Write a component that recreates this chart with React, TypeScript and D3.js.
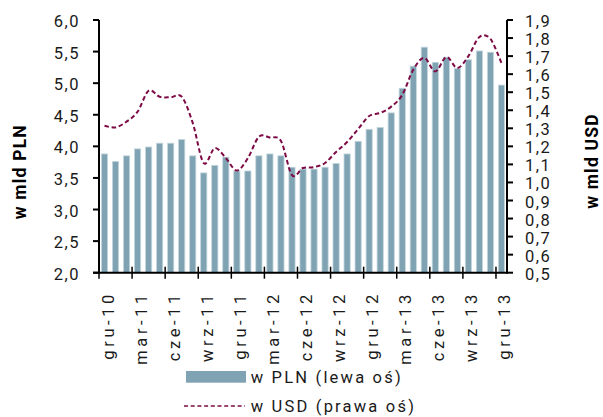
import React from "react";
import * as d3 from "d3";

const categories: string[] = [
  "gru-10","sty-11","lut-11","mar-11","kwi-11","maj-11","cze-11","lip-11","sie-11","wrz-11","paź-11","lis-11",
  "gru-11","sty-12","lut-12","mar-12","kwi-12","maj-12","cze-12","lip-12","sie-12","wrz-12","paź-12","lis-12",
  "gru-12","sty-13","lut-13","mar-13","kwi-13","maj-13","cze-13","lip-13","sie-13","wrz-13","paź-13","lis-13","gru-13",
];

const plnValues: number[] = [
  3.88, 3.76, 3.85, 3.96, 3.99, 4.05, 4.05, 4.11, 3.85, 3.58, 3.70, 3.83,
  3.61, 3.61, 3.85, 3.88, 3.85, 3.67, 3.64, 3.64, 3.67, 3.73, 3.88, 4.08,
  4.27, 4.30, 4.53, 4.92, 5.27, 5.57, 5.33, 5.41, 5.23, 5.37, 5.51, 5.49, 4.97,
];

const usdValues: number[] = [
  1.314, 1.305, 1.337, 1.392, 1.508, 1.475, 1.472, 1.475, 1.33, 1.107, 1.19, 1.135,
  1.066, 1.135, 1.253, 1.249, 1.23, 1.041, 1.08, 1.085, 1.108, 1.169, 1.224, 1.296,
  1.368, 1.385, 1.42, 1.485, 1.625, 1.69, 1.615, 1.695, 1.634, 1.70, 1.806, 1.795, 1.66,
];

const leftTicks: number[] = [2.0, 2.5, 3.0, 3.5, 4.0, 4.5, 5.0, 5.5, 6.0];
const rightTicks: number[] = [0.5, 0.6, 0.7, 0.8, 0.9, 1.0, 1.1, 1.2, 1.3, 1.4, 1.5, 1.6, 1.7, 1.8, 1.9];
const labelEvery = 3;

const leftTitle = "w mld PLN";
const rightTitle = "w mld USD";
const legendBars = "w PLN (lewa oś)";
const legendLine = "w USD (prawa oś)";

const W = 603;
const H = 417;
const FONT = "Roboto, 'DejaVu Sans', sans-serif";
const BAR = "#7fa3b3";
const LINE = "#7d0a45";
const TXT = "#1a1a1a";

export default function App() {
  const left = 99, right = 507, top = 20, bottom = 272.7;
  const x = d3.scaleBand<number>().domain(d3.range(categories.length)).range([left, right]).padding(0);
  const yL = d3.scaleLinear().domain([2, 6]).range([bottom, top]);
  const yR = d3.scaleLinear().domain([0.5, 1.9]).range([bottom, top]);
  const bw = 6.2;
  const cx = (i: number) => (x(i) as number) + x.bandwidth() / 2;
  const fmt = (v: number) => d3.format(".1f")(v).replace(".", ",");

  const line = d3
    .line<number>()
    .x((_, i) => cx(i))
    .y((d) => yR(d))
    .curve(d3.curveCardinal.tension(0));

  const tickIdx = d3.range(0, categories.length, labelEvery);

  return (
    <svg width={W} height={H} style={{ position: "absolute", left: 0, top: 0, background: "#fff" }} fontFamily={FONT}>
      {/* bars */}
      {plnValues.map((v, i) => (
        <rect
          key={i}
          x={cx(i) - bw / 2}
          y={yL(v)}
          width={bw}
          height={bottom - yL(v)}
          fill={BAR}
          stroke="#c5d7de"
          strokeWidth={0.8}
        />
      ))}
      {/* line */}
      <path d={line(usdValues) || ""} fill="none" stroke={LINE} strokeWidth={2} strokeDasharray="4.5,2.8" />

      {/* left axis */}
      <line x1={left} x2={left} y1={top} y2={bottom + 1} stroke="#000" strokeWidth={2} />
      {leftTicks.map((t) => (
        <g key={t}>
          <line x1={left - 6} x2={left} y1={yL(t)} y2={yL(t)} stroke="#000" strokeWidth={2} />
          <text x={80} y={yL(t) + 1.5} textAnchor="end" dominantBaseline="central" fontSize={16.5} fill={TXT} letterSpacing={1.5}>
            {fmt(t)}
          </text>
        </g>
      ))}
      {/* right axis */}
      <line x1={right} x2={right} y1={top} y2={bottom + 1} stroke="#000" strokeWidth={2} />
      {rightTicks.map((t) => (
        <g key={t}>
          <line x1={right} x2={right + 6} y1={yR(t)} y2={yR(t)} stroke="#000" strokeWidth={2} />
          <text x={525} y={yR(t) + 1.5} textAnchor="start" dominantBaseline="central" fontSize={16.5} fill={TXT} letterSpacing={1.5}>
            {fmt(t)}
          </text>
        </g>
      ))}
      {/* x axis */}
      <line x1={left - 6} x2={right} y1={bottom} y2={bottom} stroke="#000" strokeWidth={2} />
      {tickIdx.map((i) => (
        <g key={i}>
          <line x1={x(i) as number} x2={x(i) as number} y1={bottom - 6} y2={bottom + 6} stroke="#000" strokeWidth={1.5} />
          <text
            transform={`translate(${cx(i) + 3.5},${291}) rotate(-90)`}
            textAnchor="end"
            dominantBaseline="central"
            fontSize={16.5}
            fill={TXT}
            letterSpacing={3.6}
          >
            {categories[i]}
          </text>
        </g>
      ))}

      {/* axis titles */}
      <text transform={`translate(20,171.7) rotate(-90)`} textAnchor="middle" dominantBaseline="central" fontSize={17.5} fontWeight="bold" fill="#000" letterSpacing={1.2}>
        {leftTitle}
      </text>
      <text transform={`translate(592,161) rotate(-90)`} textAnchor="middle" dominantBaseline="central" fontSize={17.5} fontWeight="bold" fill="#000" letterSpacing={1.2}>
        {rightTitle}
      </text>

      {/* legend */}
      <rect x={186} y={371} width={60} height={11.7} fill={BAR} />
      <text x={250.7} y={377.5} dominantBaseline="central" fontSize={16.5} fill={TXT} letterSpacing={2.2}>
        {legendBars}
      </text>
      <line x1={184} x2={245} y1={406} y2={406} stroke={LINE} strokeWidth={1.5} strokeDasharray="4,2.7" />
      <text x={250.7} y={406.5} dominantBaseline="central" fontSize={16.5} fill={TXT} letterSpacing={2.2}>
        {legendLine}
      </text>
    </svg>
  );
}
